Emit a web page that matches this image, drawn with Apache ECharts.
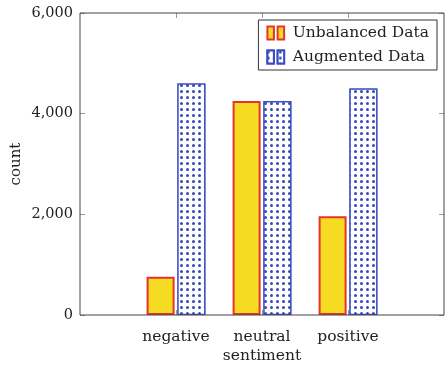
<!DOCTYPE html>
<html>
<head>
<meta charset="utf-8">
<script src="https://cdn.jsdelivr.net/npm/echarts@6/dist/echarts.min.js"></script>
<style>html,body{margin:0;padding:0;background:#fff}#c{width:448px;height:366px}</style>
</head>
<body>
<div id="c"></div>
<script>
const categories = ['negative', 'neutral', 'positive'];
const unbalanced = [760, 4250, 1960];
const augmented = [4600, 4250, 4500];
const yTicks = [0, 2000, 4000, 6000];
const seriesNames = ['Unbalanced Data', 'Augmented Data'];

const FONT = 'DejaVu Serif';
const chart = echarts.init(document.getElementById('c'), null, {renderer: 'canvas'});
const tickStyle = {color: '#999', width: 1};
const dotDecal = {symbol: 'circle', symbolSize: 1, dashArrayX: [2.2, 2.8], dashArrayY: [2.2, 2.8], color: '#3447bb', backgroundColor: '#ffffff', rotation: 0};
chart.setOption({
  animation: false,
  grid: [
    {left: 133, right: 57, top: 13, bottom: 51, show: false, outerBoundsMode: 'none', containLabel: false},
    {left: 80, right: 4, top: 13, bottom: 51, show: true, borderColor: '#444', borderWidth: 1, backgroundColor: 'transparent', z: 3, outerBoundsMode: 'none', containLabel: false}
  ],
  legend: {
    orient: 'vertical', right: 11, top: 20,
    padding: [5, 8, 5, 8],
    borderColor: '#333', borderWidth: 1, backgroundColor: '#fff',
    itemWidth: 18, itemHeight: 13, itemGap: 8,
    icon: 'path://M0,0h7v14h-7z M11,0h7v14h-7z',
    textStyle: {fontFamily: FONT, fontSize: 15.5, color: '#222', padding: [0, 0, 0, 3]},
    data: seriesNames
  },
  xAxis: [
    {type: 'category', gridIndex: 0, data: categories, position: 'bottom',
     axisLine: {show: false},
     axisTick: {show: true, inside: true, alignWithLabel: true, length: 5, lineStyle: tickStyle},
     axisLabel: {interval: 0, fontFamily: FONT, fontSize: 15.5, color: '#222', margin: 14},
     name: 'sentiment', nameLocation: 'middle', nameGap: 33, nameMoveOverlap: false,
     nameTextStyle: {fontFamily: FONT, fontSize: 15.5, color: '#222'}},
    {type: 'category', gridIndex: 0, data: categories, position: 'top',
     axisLine: {show: false},
     axisTick: {show: true, inside: true, alignWithLabel: true, interval: 0, length: 5, lineStyle: tickStyle},
     axisLabel: {show: false}},
    {type: 'value', gridIndex: 1, min: 0, max: 1, show: false}
  ],
  yAxis: [
    {type: 'value', gridIndex: 0, min: 0, max: 6000, show: false},
    {type: 'value', gridIndex: 1, min: 0, max: 6000, interval: 2000, position: 'left',
     axisLine: {show: false}, splitLine: {show: false},
     axisTick: {show: true, inside: true, length: 5, lineStyle: tickStyle},
     axisLabel: {fontFamily: FONT, fontSize: 14.5, color: '#222', margin: 7,
       formatter: v => yTicks.includes(v) ? v.toLocaleString('en-US') : ''},
     name: 'count', nameLocation: 'middle', nameGap: 56, nameRotate: 90, nameMoveOverlap: false,
     nameTextStyle: {fontFamily: FONT, fontSize: 15, color: '#222'}},
    {type: 'value', gridIndex: 1, min: 0, max: 6000, interval: 2000, position: 'right',
     axisLine: {show: false}, splitLine: {show: false},
     axisTick: {show: true, inside: true, length: 5, lineStyle: tickStyle},
     axisLabel: {show: false}}
  ],
  series: [
    {name: seriesNames[0], type: 'bar', xAxisIndex: 0, yAxisIndex: 0,
     barWidth: 28, barGap: '10%', data: unbalanced,
     itemStyle: {color: '#f5dc22', borderColor: '#e5352b', borderWidth: 2}},
    {name: seriesNames[1], type: 'bar', xAxisIndex: 0, yAxisIndex: 0,
     barWidth: 28, barGap: '10%', data: augmented,
     itemStyle: {color: '#ffffff', borderColor: '#3a4cc0', borderWidth: 1.3, decal: dotDecal}}
  ]
});
</script>
</body>
</html>
